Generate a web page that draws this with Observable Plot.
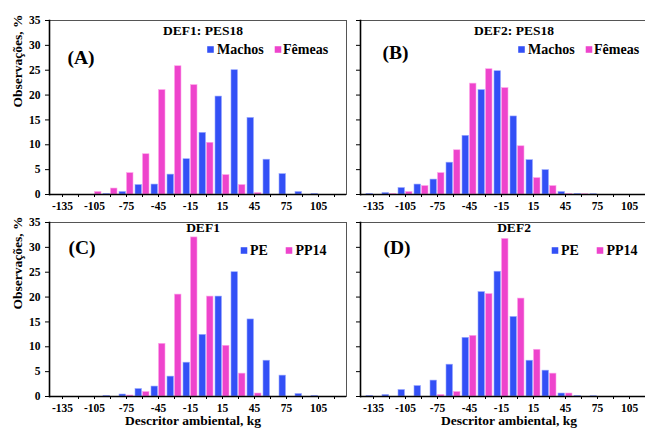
<!DOCTYPE html>
<html><head><meta charset="utf-8">
<script src="https://cdn.jsdelivr.net/npm/d3@7"></script>
<script src="https://cdn.jsdelivr.net/npm/@observablehq/plot@0.6"></script>
<style>
body{margin:0;background:#fff;}
#c{position:relative;width:645px;height:428px;overflow:hidden;background:#fff;}
#c svg{position:absolute;}
#c svg, #c svg text{font-family:"Liberation Serif","Times New Roman",serif !important;}
</style></head><body><div id="c"></div>
<script>
const cats = [-135,-120,-105,-90,-75,-60,-45,-30,-15,0,15,30,45,60,75,90,105,120];
const yTicks = [0,5,10,15,20,25,30,35];

const A_machos = [0,0,0,0.1,0.5,1.9,2.0,4.0,7.1,12.4,19.7,25.0,15.4,7.0,4.1,0.5,0.1,0];
const A_femeas = [0,0,0.5,1.2,4.3,8.1,21.0,25.8,22.0,10.4,3.9,1.9,0.3,0,0,0,0,0];
const B_machos = [0.1,0.3,1.3,2.0,3.0,6.4,11.8,21.0,24.8,15.7,6.9,4.9,0.5,0.1,0.05,0,0,0];
const B_femeas = [0,0.1,0.5,1.7,4.3,8.9,22.3,25.2,21.4,9.7,3.3,1.7,0.1,0.05,0,0,0,0];
const C_pe     = [0,0,0,0.1,0.4,1.5,2.0,4.0,6.8,12.4,20.1,25.0,15.5,7.2,4.2,0.5,0.1,0];
const C_pp14   = [0,0,0,0,0.2,0.9,10.6,20.5,32.0,20.1,10.2,4.6,0.6,0,0,0,0,0];
const D_pe     = [0.1,0.3,1.3,2.1,3.2,6.4,11.8,21.0,25.1,16.0,7.2,5.2,0.6,0.1,0.05,0,0,0];
const D_pp14   = [0,0,0,0,0.3,0.9,12.2,20.6,31.7,19.7,9.4,4.6,0.6,0,0,0,0,0];

const BLUE = "#3350f6", PINK = "#ee44cc";
const FONT = "'Liberation Serif', 'Times New Roman', serif";

function rows(vals){ return cats.map((c,i)=>({c, v: vals[i]})).filter(d=>d.v>0); }

function panel(o){
  const T = {lineAnchor:"middle", fontWeight:"bold"};
  const marks = [
    Plot.barY(rows(o.s1), {x:"c", y:"v", fill:BLUE, stroke:"#9aa8ff", strokeWidth:0.6, insetLeft:1, insetRight:8.5}),
    Plot.barY(rows(o.s2), {x:"c", y:"v", fill:PINK, stroke:"#ffa6ea", strokeWidth:0.6, insetLeft:8.5, insetRight:1}),
    Plot.frame({stroke:"#555", strokeWidth:1}),
    Plot.frame({anchor:"left", stroke:"#000", strokeWidth:1.6}),
    Plot.ruleY([0], {stroke:"#000", strokeWidth:1.6}),
    Plot.axisX({tickFormat: d => ((d+135)%30===0 ? String(d) : ""), tickSize:3, tickPadding:4, fontSize:11.5, fontWeight:"bold"}),
    Plot.axisY({ticks: yTicks, tickSize:4, tickPadding:5, tickFormat: o.showY ? (d=>String(d)) : (()=>""), fontSize:11.5, fontWeight:"bold"}),
    Plot.text([o.title], {...T, frameAnchor:"top", dx:5, dy:o.titleDy, fontSize:13.5}),
    Plot.text([o.tag], {...T, frameAnchor:"top-left", textAnchor:"start", dx:o.tagDx, dy:o.tagDy, fontSize:19.5}),
    Plot.dot([0], {frameAnchor:"top-right", dx:o.leg[0], dy:o.legDy, symbol:"square", r:3.7, fill:BLUE}),
    Plot.text([o.n1], {...T, frameAnchor:"top-right", textAnchor:"start", dx:o.leg[1], dy:o.legDy, fontSize:14}),
    Plot.dot([0], {frameAnchor:"top-right", dx:o.leg[2], dy:o.legDy, symbol:"square", r:3.7, fill:PINK}),
    Plot.text([o.n2], {...T, frameAnchor:"top-right", textAnchor:"start", dx:o.leg[3], dy:o.legDy, fontSize:14})
  ];
  if (o.showY) marks.push(Plot.text(["Observações, %"], {...T, frameAnchor:"left", dx:-32, rotate:-90, fontSize:13.5}));
  if (o.showX) marks.push(Plot.text(["Descritor ambiental, kg"], {...T, frameAnchor:"bottom", dx:o.xlDx, dy:24, fontSize:13.5}));
  const svg = Plot.plot({
    width:o.width, height:o.height,
    marginLeft:o.mL, marginRight:o.mR, marginTop:o.mT, marginBottom:o.mB,
    style:{fontFamily:FONT, fontSize:"11.5px", fontWeight:"bold", background:"transparent", color:"#000", overflow:"visible"},
    x:{type:"band", domain:cats, paddingInner:0, paddingOuter:0, label:null},
    y:{domain:[0,35], label:null},
    marks
  });
  svg.style.left = o.left+"px";
  svg.style.top = o.top+"px";
  svg.style.maxWidth = "none";
  document.getElementById("c").appendChild(svg);
}

const legAB = [-136, -129.5, -68.5, -63.5];
const legCD = [-102.5, -96.5, -57.5, -51];

panel({left:0, top:0, width:360, height:214, mL:49, mR:14, mT:20, mB:20,
  s1:A_machos, s2:A_femeas, n1:"Machos", n2:"Fêmeas", title:"DEF1: PES18", titleDy:10,
  tag:"(A)", tagDx:18, tagDy:37, leg:legAB, legDy:29, showY:true, showX:false});
panel({left:345, top:0, width:315, height:214, mL:15, mR:3, mT:20, mB:20,
  s1:B_machos, s2:B_femeas, n1:"Machos", n2:"Fêmeas", title:"DEF2: PES18", titleDy:10,
  tag:"(B)", tagDx:22, tagDy:32, leg:legAB, legDy:29, showY:false, showX:false});
panel({left:0, top:214, width:360, height:214, mL:49, mR:14, mT:8, mB:32,
  s1:C_pe, s2:C_pp14, n1:"PE", n2:"PP14", title:"DEF1", titleDy:5,
  tag:"(C)", tagDx:19, tagDy:25, leg:legCD, legDy:28, showY:true, showX:true, xlDx:-5});
panel({left:345, top:214, width:315, height:214, mL:15, mR:3, mT:8, mB:32,
  s1:D_pe, s2:D_pp14, n1:"PE", n2:"PP14", title:"DEF2", titleDy:5,
  tag:"(D)", tagDx:23, tagDy:25, leg:legCD, legDy:28, showY:false, showX:true, xlDx:0});
</script></body></html>
